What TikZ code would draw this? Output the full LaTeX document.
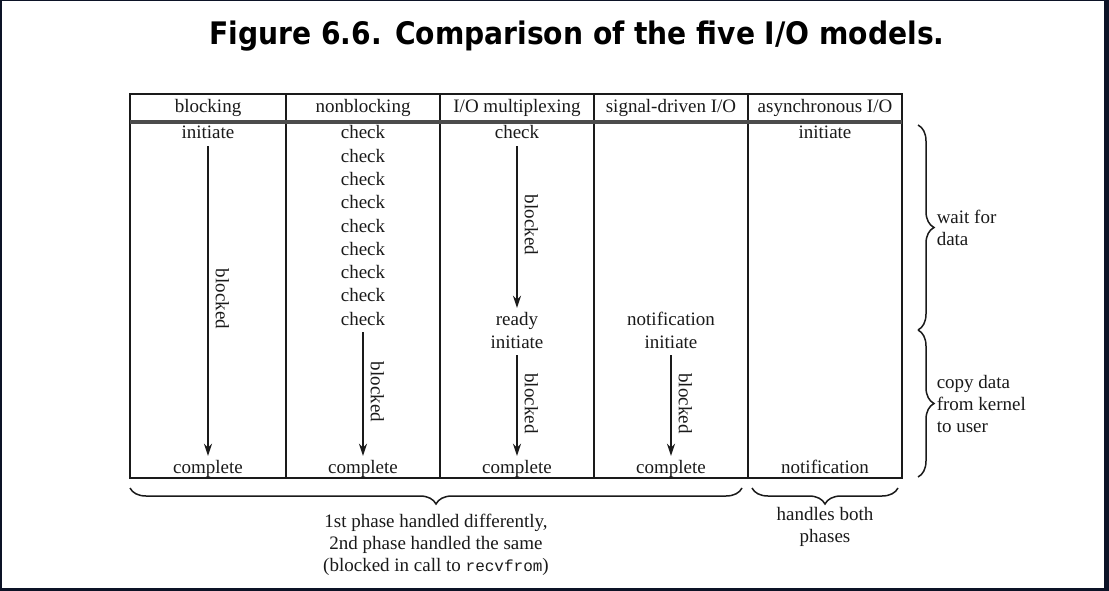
\documentclass[tikz,border=0pt]{standalone}
\usepackage{graphicx}
\usepackage{fontspec}
\setmainfont{Liberation Serif}
\setmonofont{Liberation Mono}
\newfontfamily\titlefont{DejaVu Sans}
\usetikzlibrary{arrows.meta,decorations.pathreplacing}
\definecolor{framecol}{HTML}{0C1326}
\definecolor{inkcol}{HTML}{1A1A1A}
\begin{document}
\begin{tikzpicture}[x=1pt,y=-1pt,
  txt/.style={font=\fontsize{19}{22}\selectfont, text=inkcol, inner sep=1pt, text height=15pt, text depth=1pt},
  tline/.style={line width=1.4pt, draw=inkcol},
  arr/.style={-{Stealth[length=12pt,width=8pt]}, line width=1.6pt, draw=inkcol, shorten <=5pt, shorten >=1pt},
  lbl/.style={midway, rotate=-90, anchor=south, inner sep=7pt, font=\fontsize{19}{22}\selectfont, text=inkcol},
  brc/.style={decorate, decoration={brace, amplitude=16pt}, line width=1.5pt, draw=inkcol},
  btxt/.style={font=\fontsize{19}{22}\selectfont, text=inkcol, inner sep=0pt, align=center}
]
\fill[framecol] (0,0) rectangle (1109,591);
\fill[white] (2,1) rectangle (1104,588);
\useasboundingbox (0,0) rectangle (1109,591);

% title
\node[inner sep=0pt] (title) at (577,36) {\resizebox{735pt}{1.15\height}{\fontsize{27}{30}\selectfont\titlefont\bfseries Figure 6.6. Comparison of the five I/O models.}};

% table frame
\draw[tline] (130,94) rectangle (902,478);
\foreach \x in {286,440,594,748} \draw[tline] (\x,94) -- (\x,478);
\draw[line width=3.2pt, draw=black!70] (130,122) -- (902,122);

% headers
\node[txt] (h1) at (208,106) {blocking};
\node[txt] (h2) at (363,106) {nonblocking};
\node[txt] (h3) at (517,106) {I/O multiplexing};
\node[txt] (h4) at (671,106) {signal-driven I/O};
\node[txt] (h5) at (825,106) {asynchronous I/O};

% blocking
\node[txt] (b1) at (208,132) {initiate};
\node[txt] (b2) at (208,466) {complete};
\draw[arr] (b1) -- (b2) node[lbl] {blocked};

% nonblocking
\foreach \i/\y in {1/132,2/155.25,3/178.5,4/201.75,5/225,6/248.25,7/271.5,8/294.75,9/318}
  \node[txt] (n\i) at (363,\y) {check};
\node[txt] (n10) at (363,466) {complete};
\draw[arr] (n9) -- (n10) node[lbl] {blocked};

% multiplexing
\node[txt] (m1) at (517,132) {check};
\node[txt] (m2) at (517,318) {ready};
\node[txt] (m3) at (517,341) {initiate};
\node[txt] (m4) at (517,466) {complete};
\draw[arr] (m1) -- (m2) node[lbl] {blocked};
\draw[arr] (m3) -- (m4) node[lbl] {blocked};

% signal-driven
\node[txt] (s1) at (671,318) {notification};
\node[txt] (s2) at (671,341) {initiate};
\node[txt] (s3) at (671,466) {complete};
\draw[arr] (s2) -- (s3) node[lbl] {blocked};

% asynchronous
\node[txt] (a1) at (825,132) {initiate};
\node[txt] (a2) at (825,466) {notification};

% right braces
\coordinate (rt) at (918,125);
\coordinate (rm) at (918,330);
\coordinate (rb) at (918,477);
\draw[brc] (rt) -- (rm) node[midway, anchor=west, xshift=18pt, btxt, align=left] (w1) {wait for\\data};
\draw[brc] (rm) -- (rb) node[midway, anchor=west, xshift=18pt, btxt, align=left] (w2) {copy data\\from kernel\\to user};

% bottom braces
\coordinate (bl) at (130,488);
\coordinate (bm) at (742,488);
\coordinate (bn) at (752,488);
\coordinate (br) at (898,488);
\draw[brc] (bm) -- (bl) node[midway, anchor=north, yshift=-25pt, btxt] (p1) {1st phase handled differently,\\2nd phase handled the same\\(blocked in call to {\fontsize{16}{22}\selectfont\texttt{recvfrom}})};
\draw[brc] (br) -- (bn) node[midway, anchor=north, yshift=-19pt, btxt] (p2) {handles both\\phases};
\end{tikzpicture}
\end{document}
